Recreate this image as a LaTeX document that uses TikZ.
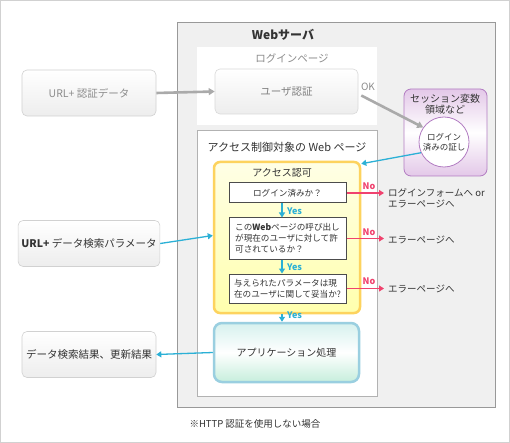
\documentclass[tikz,border=0pt]{standalone}
\usepackage{fontspec}
\setmainfont{Noto Sans CJK JP}
\usetikzlibrary{arrows.meta}
\definecolor{cblue}{HTML}{2BB0D6}
\definecolor{cpink}{HTML}{F0426E}
\definecolor{cgray}{HTML}{AAAAAA}
\definecolor{ctxt}{HTML}{333333}
\definecolor{cpurp}{HTML}{B27CC2}
\definecolor{cpurpf}{HTML}{E3C8E8}
\definecolor{cyelb}{HTML}{FDD35E}
\definecolor{cteal}{HTML}{9ACFE0}
\definecolor{capptop}{HTML}{D6F1EE}
\definecolor{cappbot}{HTML}{C6EEDC}
\tikzset{
  lbox/.style={draw=#1, rounded corners=5pt, top color=white, bottom color=black!7, line width=0.6pt, minimum width=134pt, minimum height=46pt, font=\fontsize{10.5}{12}\selectfont},
  qbox/.style={draw=black!70, fill=white, line width=1pt, minimum width=117pt, align=left, inner sep=2pt, font=\fontsize{8.6}{11}\selectfont, text=ctxt},
  barrow/.style={draw=cblue, line width=1.3pt, -{Triangle[length=5pt,width=6pt]}},
  parrow/.style={draw=cpink, line width=1.3pt, -{Triangle[length=5pt,width=6pt]}},
  garrow/.style={draw=cgray, line width=2.6pt, -{Triangle[length=6pt,width=7pt]}},
  yeslab/.style={text=cblue, font=\fontsize{9}{10}\selectfont\bfseries, anchor=west, inner sep=1pt},
  nolab/.style={text=cpink, font=\fontsize{9}{10}\selectfont\bfseries, inner sep=1pt},
  tgt/.style={text=ctxt, font=\fontsize{9.5}{11}\selectfont, anchor=west, align=left, inner sep=4pt},
}
\begin{document}
\begin{tikzpicture}[x=1pt,y=-1pt]
\useasboundingbox (0,0) rectangle (510,443);
% outer frame
\draw[draw=black!18, line width=1.2pt, fill=white] (0.6,0.6) rectangle (509.4,442.4);
% web server
\node[draw=black!40, fill=black!6, line width=0.8pt, minimum width=318pt, minimum height=385pt] (ws) at (336,214.5) {};
\node[font=\fontsize{12}{14}\selectfont\bfseries, text=ctxt] (wst) at (283,35) {Webサーバ};
% login page
\node[fill=white, minimum width=180pt, minimum height=78pt] (lp) at (287,86) {};
\node[font=\fontsize{10.5}{12}\selectfont, text=black!45] (lpt) at (292,58) {ログインページ};
\node[lbox=black!15, minimum width=143pt, minimum height=45pt, text=black!50] (auth) at (286.5,91.5) {ユーザ認証};
% left boxes
\node[lbox=black!18, text=black!45] (ua) at (89,93) {URL+ 認証データ};
\node[lbox=black!18, text=ctxt] (ud) at (89,243.5) {\textbf{URL+} データ検索パラメータ};
\node[lbox=black!18, text=ctxt] (res) at (89,354.5) {データ検索結果、更新結果};
% session
\node[draw=cpurp, rounded corners=7pt, line width=0.8pt, minimum width=83pt, minimum height=87pt, top color=cpurpf, bottom color=cpurpf, middle color=white] (ses) at (445.5,132.5) {};
\node[font=\fontsize{10}{11.5}\selectfont, align=center, text=ctxt] (sest) at (445,104) {セッション変数\\領域など};
\node[circle, draw=cpurp, fill=white, line width=0.8pt, minimum size=50pt, inner sep=0pt, font=\fontsize{8.5}{10}\selectfont, align=center, text=ctxt] (circ) at (444,142) {ログイン\\済みの証し};
% access control page
\node[draw=black!30, fill=white, line width=0.8pt, minimum width=180pt, minimum height=266pt] (acp) at (287,263.5) {};
\node[font=\fontsize{11}{13}\selectfont, text=ctxt] (acpt) at (287,147) {アクセス制御対象の Web ページ};
% yellow
\node[draw=cyelb, line width=2.5pt, rounded corners=6pt, top color=yellow!10, bottom color=yellow!32, minimum width=146pt, minimum height=151pt] (yel) at (287,237.5) {};
\node[font=\fontsize{10}{12}\selectfont, text=ctxt] (yelt) at (282,173) {アクセス認可};
\node[qbox, align=center, minimum height=20pt] (b1) at (287.5,193) {ログイン済みか？};
\node[qbox, minimum height=41pt] (b2) at (287.5,238.5) {この\textbf{Web}ページの呼び出し\\が現在のユーザに対して許\\可されているか？};
\node[qbox, minimum height=29pt] (b3) at (287.5,288.5) {与えられたパラメータは現\\在のユーザに関して妥当か?};
% application
\node[draw=cteal, line width=2.5pt, rounded corners=8pt, top color=capptop, bottom color=cappbot, middle color=white, minimum width=145pt, minimum height=59pt, font=\fontsize{10}{12}\selectfont, text=ctxt] (app) at (286.5,352.5) {アプリケーション処理};
% Yes arrows
\coordinate (yx) at (282,0);
\draw[barrow] (b1.south -| yx) -- (b2.north -| yx);
\draw[barrow] (b2.south -| yx) -- (b3.north -| yx);
\draw[barrow] (yel.south -| yx) -- (app.north -| yx);
\node[yeslab] (y1) at (286,211) {Yes};
\node[yeslab] (y2) at (286,267) {Yes};
\node[yeslab] (y3) at (286,315) {Yes};
% No arrows and targets
\node[tgt] (t1) at (384,198) {ログインフォームへ or\\エラーページへ};
\node[tgt] (t2) at (384,240) {エラーページへ};
\node[tgt] (t3) at (384,288.5) {エラーページへ};
\draw[parrow] (b1.east) -- (b1.east -| t1.west);
\draw[parrow] (b2.east) -- (b2.east -| t2.west);
\draw[parrow] (b3.east) -- (b3.east -| t3.west);
\node[nolab] (n1) at (369,186) {No};
\node[nolab] (n2) at (369,232.5) {No};
\node[nolab] (n3) at (369,281.5) {No};
% grey arrows
\draw[garrow] (ua.east) -- (auth.west);
\node[font=\fontsize{10}{12}\selectfont, text=black!45] (ok) at (368,87) {OK};
\draw[garrow] ([xshift=3pt,yshift=-4pt]auth.east) -- (circ.145);
% blue arrows
\draw[barrow] (circ.205) -- ([yshift=-3pt]yel.north east);
\draw[barrow] (ud.east) -- ([yshift=2pt]yel.west);
\draw[barrow] (app.west) -- (res.east);
% footer
\node[font=\fontsize{9.5}{11}\selectfont, text=ctxt] (foot) at (255,424) {※HTTP 認証を使用しない場合};
\end{tikzpicture}
\end{document}
